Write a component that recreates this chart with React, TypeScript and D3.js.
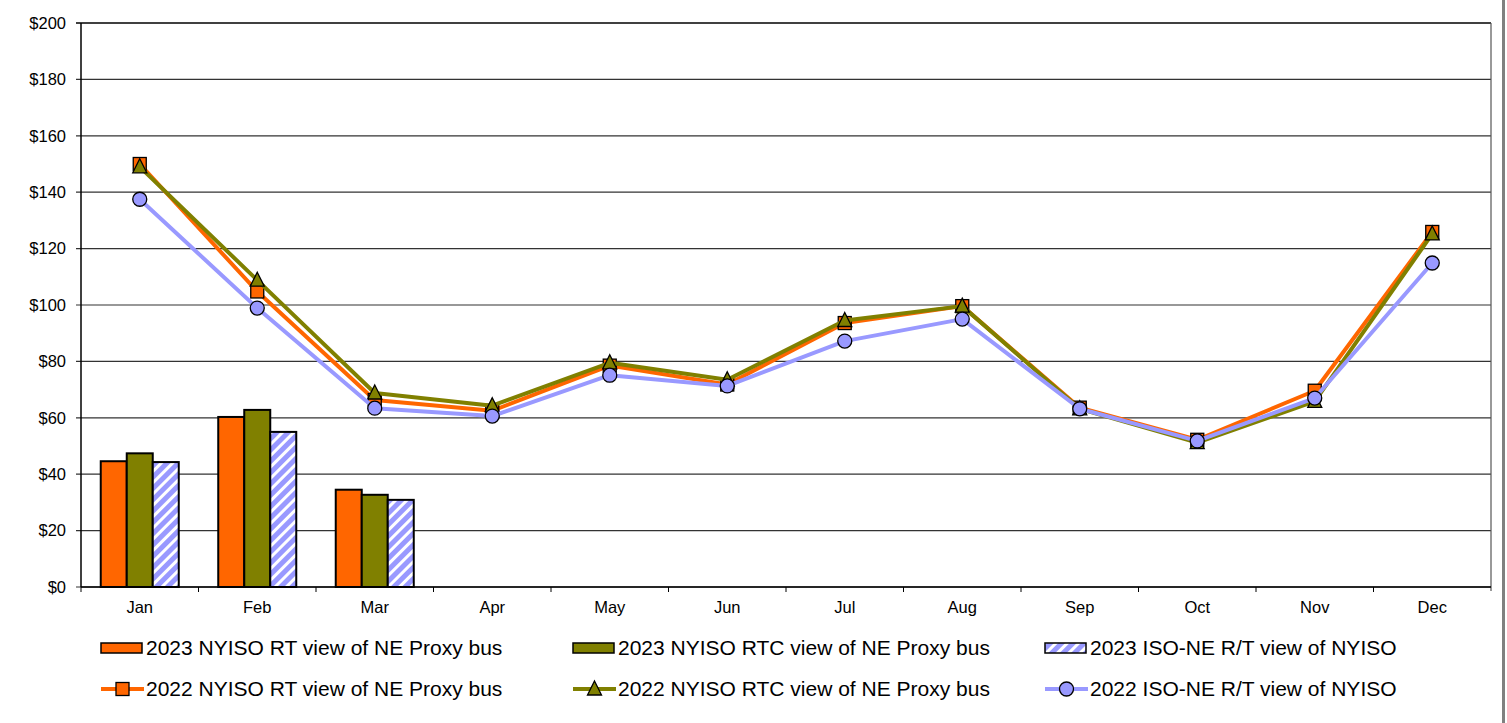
import React from "react";
import * as d3 from "d3";

const months = ["Jan", "Feb", "Mar", "Apr", "May", "Jun", "Jul", "Aug", "Sep", "Oct", "Nov", "Dec"];

// 2023 bars (only Jan-Mar so far)
const rt2023 = [44.6, 60.3, 34.5];
const rtc2023 = [47.4, 62.8, 32.7];
const isone2023 = [44.3, 55.0, 30.9];

// 2022 lines
const rt2022 = [150, 104.8, 66.3, 62.5, 78.5, 71.8, 93.6, 99.6, 63.6, 52.2, 69.6, 125.9];
const rtc2022 = [149, 108.8, 68.8, 64.3, 79.5, 73.5, 94.5, 99.6, 63.2, 51.2, 65.8, 125.2];
const isone2022 = [137.5, 98.9, 63.4, 60.6, 75.1, 71.3, 87.2, 95.0, 63.2, 51.8, 67.0, 114.9];

const yTicks = [0, 20, 40, 60, 80, 100, 120, 140, 160, 180, 200];

const ORANGE = "#FF6600";
const OLIVE = "#808000";
const LAVENDER = "#9999FF";

const barSeries = [
  { name: "2023 NYISO RT view of NE Proxy bus", values: rt2023, fill: ORANGE },
  { name: "2023 NYISO RTC view of NE Proxy bus", values: rtc2023, fill: OLIVE },
  { name: "2023 ISO-NE R/T view of NYISO", values: isone2023, fill: "url(#hatch)" },
];

const lineSeries = [
  { name: "2022 NYISO RT view of NE Proxy bus", values: rt2022, color: ORANGE, marker: "square" },
  { name: "2022 NYISO RTC view of NE Proxy bus", values: rtc2022, color: OLIVE, marker: "triangle" },
  { name: "2022 ISO-NE R/T view of NYISO", values: isone2022, color: LAVENDER, marker: "circle" },
];

const W = 1507;
const H = 723;
const plot = { left: 81, right: 1491, top: 23, bottom: 587 };
const font = "'Liberation Sans', Arial, sans-serif";

function Marker({ kind, cx, cy, color }: { kind: string; cx: number; cy: number; color: string }) {
  if (kind === "square") {
    return <rect x={cx - 6.5} y={cy - 6.5} width={13} height={13} fill={color} stroke="#000" strokeWidth={1.3} />;
  }
  if (kind === "triangle") {
    const p = d3.path();
    p.moveTo(cx, cy - 8);
    p.lineTo(cx + 7, cy + 6);
    p.lineTo(cx - 7, cy + 6);
    p.closePath();
    return <path d={p.toString()} fill={color} stroke="#000" strokeWidth={1.3} />;
  }
  return <circle cx={cx} cy={cy} r={7} fill={color} stroke="#000" strokeWidth={1.3} />;
}

export default function App() {
  const x = d3.scaleBand<string>().domain(months).range([plot.left, plot.right]).padding(0);
  const y = d3.scaleLinear().domain([0, 200]).range([plot.bottom, plot.top]);
  const bw = x.bandwidth();
  const groupW = bw * 0.664;
  const xSub = d3
    .scaleBand<number>()
    .domain([0, 1, 2])
    .range([(bw - groupW) / 2, (bw + groupW) / 2]);

  const line = d3
    .line<number>()
    .x((_, i) => (x(months[i]) as number) + bw / 2)
    .y((d) => y(d));

  const legendCols = [101, 573, 1045];
  const legendRows = [648, 689];

  return (
    <svg
      width={W}
      height={H}
      style={{ position: "absolute", left: 0, top: 0, background: "#fff" }}
      fontFamily={font}
    >
      <defs>
        <pattern id="hatch" width="8" height="8" patternUnits="userSpaceOnUse" patternTransform="rotate(45)">
          <rect width="8" height="8" fill={LAVENDER} />
          <rect width="3" height="8" fill="#fff" />
        </pattern>
      </defs>

      {/* gridlines */}
      {yTicks.map((t) => (
        <line key={t} x1={plot.left - 5} x2={plot.right} y1={y(t)} y2={y(t)} stroke={t === 200 ? "#000" : "#333"} strokeWidth={t === 200 ? 1.5 : 1.2} />
      ))}
      {yTicks.map((t) => (
        <text key={"l" + t} x={66} y={y(t)} dy="0.35em" textAnchor="end" fontSize={16.5} fill="#000">
          ${t}
        </text>
      ))}

      {/* plot frame */}
      <line x1={plot.left} x2={plot.left} y1={plot.top} y2={plot.bottom} stroke="#000" strokeWidth={1.5} />
      <line x1={plot.right} x2={plot.right} y1={plot.top} y2={plot.bottom + 4} stroke="#555" strokeWidth={1.2} />
      <line x1={plot.left} x2={plot.right} y1={plot.bottom} y2={plot.bottom} stroke="#000" strokeWidth={1.5} />

      {/* x ticks */}
      {months.map((m) => (
        <line key={"t" + m} x1={x(m) as number} x2={x(m) as number} y1={plot.bottom} y2={plot.bottom + 5} stroke="#000" strokeWidth={1} />
      ))}
      {months.map((m) => (
        <text key={"x" + m} x={(x(m) as number) + bw / 2} y={607} dy="0.35em" textAnchor="middle" fontSize={16.5} fill="#000">
          {m}
        </text>
      ))}

      {/* bars */}
      {barSeries.map((s, si) =>
        s.values.map((v, i) => (
          <rect
            key={s.name + i}
            x={(x(months[i]) as number) + (xSub(si) as number)}
            y={y(v)}
            width={xSub.bandwidth()}
            height={y(0) - y(v)}
            fill={s.fill}
            stroke="#000"
            strokeWidth={2}
          />
        ))
      )}

      {/* lines */}
      {lineSeries.map((s) => (
        <g key={s.name}>
          <path d={line(s.values) as string} fill="none" stroke={s.color} strokeWidth={4} strokeLinejoin="round" />
          {s.values.map((v, i) => (
            <Marker key={i} kind={s.marker} cx={(x(months[i]) as number) + bw / 2} cy={y(v)} color={s.color} />
          ))}
        </g>
      ))}

      {/* legend */}
      {barSeries.map((s, i) => (
        <g key={"lb" + i}>
          <rect x={legendCols[i]} y={legendRows[0] - 5} width={41} height={10} fill={s.fill} stroke="#000" strokeWidth={1.5} />
          <text x={legendCols[i] + 45} y={legendRows[0]} dy="0.35em" fontSize={21} fill="#000">
            {s.name}
          </text>
        </g>
      ))}
      {lineSeries.map((s, i) => (
        <g key={"ll" + i}>
          <line x1={legendCols[i]} x2={legendCols[i] + 43} y1={legendRows[1]} y2={legendRows[1]} stroke={s.color} strokeWidth={4} />
          <Marker kind={s.marker} cx={legendCols[i] + 21.5} cy={legendRows[1]} color={s.color} />
          <text x={legendCols[i] + 45} y={legendRows[1]} dy="0.35em" fontSize={21} fill="#000">
            {s.name}
          </text>
        </g>
      ))}

      {/* outer frame edge */}
      <line x1={1503.5} x2={1503.5} y1={0} y2={H} stroke="#808080" strokeWidth={3} />
    </svg>
  );
}
